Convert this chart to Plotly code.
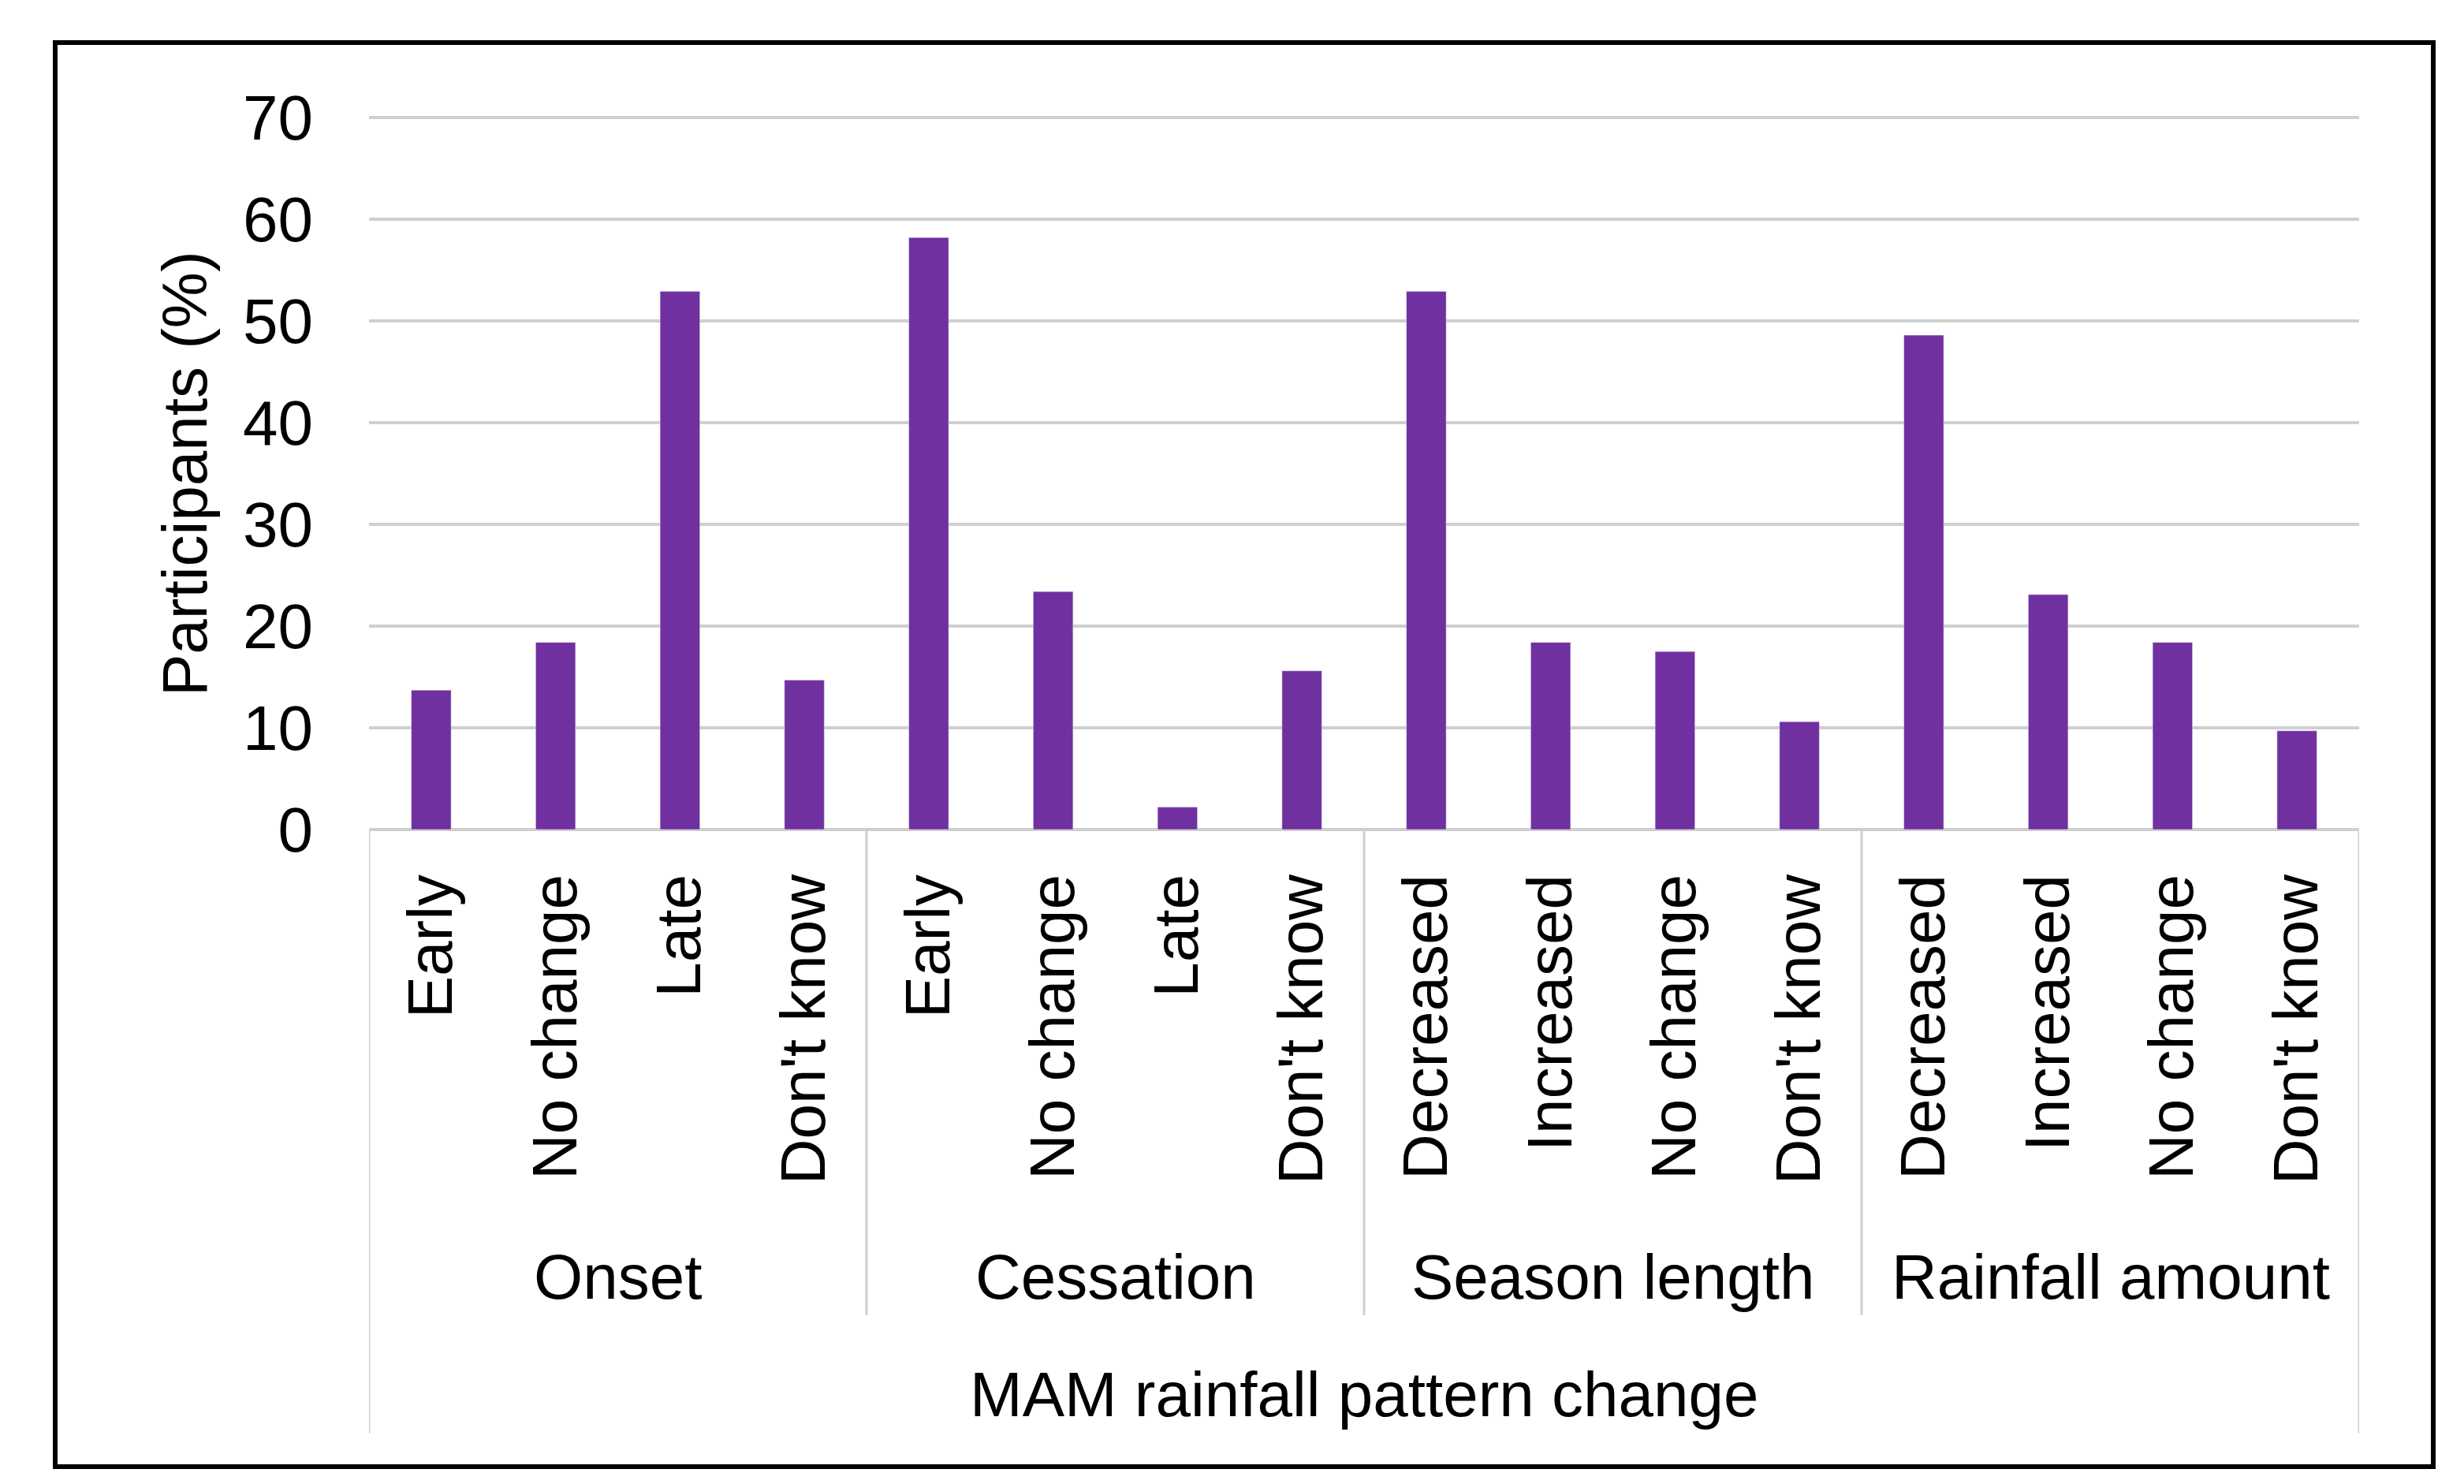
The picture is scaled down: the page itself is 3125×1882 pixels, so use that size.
import plotly.graph_objects as go

# ---- data ----
groups = ["Onset", "Cessation", "Season length", "Rainfall amount"]
group_categories = [
    ["Early", "No change", "Late", "Don't know"],
    ["Early", "No change", "Late", "Don't know"],
    ["Decreased", "Increased", "No change", "Don't know"],
    ["Decreased", "Increased", "No change", "Don't know"],
]
onset_values = [13.7, 18.4, 52.9, 14.7]
cessation_values = [58.2, 23.4, 2.2, 15.6]
season_length_values = [52.9, 18.4, 17.5, 10.6]
rainfall_amount_values = [48.6, 23.1, 18.4, 9.7]
y_ticks = [0, 10, 20, 30, 40, 50, 60, 70]
x_title = "MAM rainfall pattern change"
y_title = "Participants (%)"

# ---- build ----
values = onset_values + cessation_values + season_length_values + rainfall_amount_values
labels = [c for g in group_categories for c in g]
xpos = list(range(len(values)))

W, H = 3125, 1882
L, R, T, B = 460, 141, 140, 838
PW, PH = W - L - R, H - T - B

def px_x(p):
    return (p - L) / PW

def px_y(p):
    return (H - B - p) / PH

FONT = "Liberation Sans, Arial, sans-serif"
FS = 80
GRID = "#cfcfcf"

fig = go.Figure(go.Bar(x=xpos, y=values, marker_color="#7030a0", width=0.32))

shapes = []
annotations = []
# dividers
starts = [0]
for g in group_categories:
    starts.append(starts[-1] + len(g))
for i, s in enumerate(starts):
    outer = i == 0 or i == len(starts) - 1
    shapes.append(dict(type="line", xref="x", yref="paper", x0=s - 0.5, x1=s - 0.5,
                       y0=0, y1=px_y(1810 if outer else 1660),
                       line=dict(color=GRID, width=3)))
for i, g in enumerate(groups):
    center = (starts[i] + starts[i + 1] - 1) / 2
    annotations.append(dict(text=g, xref="x", yref="paper", x=center, y=px_y(1612),
                            showarrow=False, font=dict(family=FONT, size=FS, color="black"),
                            xanchor="center", yanchor="middle"))
annotations.append(dict(text=x_title, xref="x", yref="paper", x=(len(values) - 1) / 2,
                        y=px_y(1760), showarrow=False,
                        font=dict(family=FONT, size=FS, color="black"),
                        xanchor="center", yanchor="middle"))
annotations.append(dict(text=y_title, xref="paper", yref="paper", x=px_x(226), y=px_y(593),
                        textangle=-90, showarrow=False,
                        font=dict(family=FONT, size=FS, color="black"),
                        xanchor="center", yanchor="middle"))
# outer border
shapes.append(dict(type="rect", xref="paper", yref="paper",
                   x0=px_x(62), x1=px_x(3078), y0=px_y(1852), y1=px_y(46),
                   line=dict(color="black", width=6)))

fig.update_layout(
    width=W, height=H,
    margin=dict(l=L, r=R, t=T, b=B),
    paper_bgcolor="white", plot_bgcolor="white",
    showlegend=False,
    font=dict(family=FONT, size=FS, color="black"),
    shapes=shapes, annotations=annotations,
    xaxis=dict(range=[-0.5, len(values) - 0.5], tickmode="array", tickvals=xpos,
               ticktext=labels, tickangle=-90, showgrid=False, zeroline=False,
               showline=False, ticks="", ticklabelstandoff=40,
               tickfont=dict(family=FONT, size=FS, color="black")),
    yaxis=dict(range=[0, 70.08], tickmode="array", tickvals=y_ticks, showgrid=True,
               gridcolor=GRID, gridwidth=4, zeroline=True, zerolinecolor=GRID,
               zerolinewidth=4, showline=False, ticks="", ticklabelstandoff=70,
               tickfont=dict(family=FONT, size=FS, color="black")),
)

fig.write_html("out.html")
